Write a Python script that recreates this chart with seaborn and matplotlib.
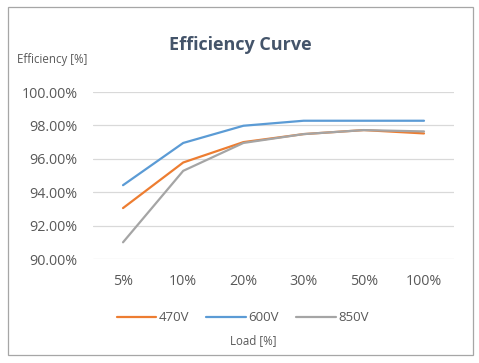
import matplotlib
matplotlib.use("Agg")
import matplotlib.pyplot as plt
import matplotlib.patches as mpatches
from matplotlib.ticker import FuncFormatter
import pandas as pd
import seaborn as sns

# data
loads = ['5%', '10%', '20%', '30%', '50%', '100%']
eff_470 = [93.05, 95.78, 97.0, 97.48, 97.72, 97.52]
eff_600 = [94.42, 96.95, 97.98, 98.28, 98.28, 98.28]
eff_850 = [91.0, 95.28, 96.95, 97.48, 97.72, 97.64]
series = ['470V', '600V', '850V']
colors = ['#ED7D31', '#5B9BD5', '#A5A5A5']

df = pd.DataFrame({
    'Load': loads * 3,
    'Efficiency': eff_470 + eff_600 + eff_850,
    'Voltage': [s for s in series for _ in loads],
})
df['pos'] = df['Load'].map({l: i for i, l in enumerate(loads)})

sns.set_style("white")
plt.rcParams['font.family'] = ['Open Sans', 'DejaVu Sans']

fig = plt.figure(figsize=(4.79, 3.63), dpi=100)
ax = fig.add_axes([0.194, 0.2865, 0.754, 0.460])

sns.lineplot(data=df, x='pos', y='Efficiency', hue='Voltage', hue_order=series,
             palette=colors, linewidth=1.6, ax=ax, legend=False)

ax.set_xlim(-0.5, 5.5)
ax.set_ylim(90, 100)
ax.set_yticks([90, 92, 94, 96, 98, 100])
ax.yaxis.set_major_formatter(FuncFormatter(lambda v, p: f'{v:.2f}%'))
ax.set_xticks(range(len(loads)))
ax.set_xticklabels(loads)
ax.tick_params(axis='both', colors='#595959', labelsize=10.3, length=0)
ax.tick_params(axis='y', pad=11)
ax.tick_params(axis='x', pad=11)
ax.grid(axis='y', color='#D9D9D9', linewidth=0.9)
ax.set_axisbelow(True)
for s in ax.spines.values():
    s.set_visible(False)
ax.set_xlabel('')
ax.set_ylabel('')

fig.text(0.501, 0.875, 'Efficiency Curve', ha='center', va='center',
         fontsize=13, fontweight='bold', color='#44546A')
fig.text(0.036, 0.835, 'Efficiency [%]', ha='left', va='center',
         fontsize=8.3, color='#595959')
fig.text(0.528, 0.063, 'Load [%]', ha='center', va='center',
         fontsize=8.3, color='#595959')

handles = [plt.Line2D([], [], color=c, linewidth=1.6) for c in colors]
fig.legend(handles, series, loc='center', bbox_to_anchor=(0.507, 0.124),
           ncol=3, frameon=False, fontsize=9.5, handlelength=3.0,
           handletextpad=0.2, columnspacing=1.3, labelcolor='#595959')

fig.patches.append(mpatches.Rectangle((0.017, 0.022), 0.970, 0.958,
                                      transform=fig.transFigure, fill=False,
                                      edgecolor='#A6A6A6', linewidth=0.9))

fig.savefig('out.png', dpi=100)
